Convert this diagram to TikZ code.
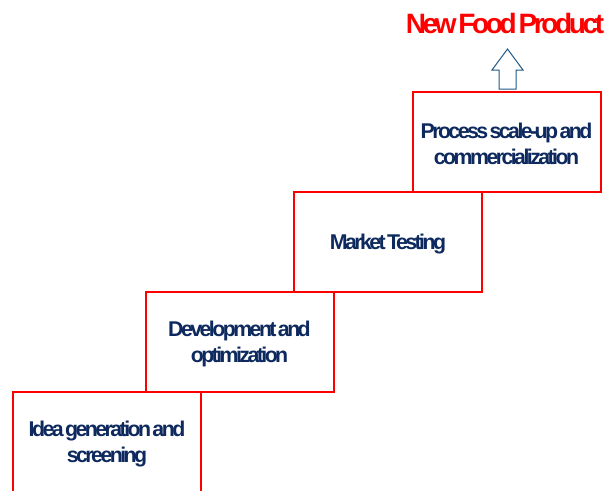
\documentclass[tikz,border=0pt]{standalone}
\usepackage{fontspec}
\setmainfont{Liberation Sans}
\newfontfamily\stepfont[LetterSpace=-12,WordSpace=0.4]{Liberation Sans}
\newfontfamily\titlefont[LetterSpace=-12,WordSpace=0.4]{Liberation Sans}
\usepackage{tikz}
\usetikzlibrary{positioning}
\definecolor{stepred}{RGB}{255,0,0}
\definecolor{stepnavy}{RGB}{13,41,94}
\definecolor{arrowblue}{RGB}{31,90,134}
\tikzset{
  stepbox/.style={draw=stepred, line width=1.5pt, fill=white, minimum width=141pt, minimum height=75pt, align=center, text=stepnavy, font=\stepfont\bfseries\fontsize{16}{19.5}\selectfont, inner sep=0pt},
  steptext/.style={text=stepnavy, font=\stepfont\bfseries\fontsize{16}{19.5}\selectfont, align=center, inner sep=0pt}
}

\begin{document}
\begin{tikzpicture}[x=0.75pt,y=0.75pt,yscale=-1,xscale=1]
\useasboundingbox (0,0) rectangle (606,490);

%Steps
\node (idea) [stepbox] at (107,442) {};
\node (devel) [stepbox] at (239.5,342) {};
\node (market) [stepbox] at (388,242) {};
\node (scaleup) [stepbox] at (506.5,142) {};

% Text Nodes
\node (ideatext) [steptext] at (107,444) {Idea generation and\\screening};
\node (develtext) [steptext] at (239.5,344) {Development and\\optimization};
\node (markettext) [steptext] at (388,244) {Market Testing};
\node (scaleuptext) [steptext] at (506.5,144) {Process scale-up and\\commercialization};

%Block Arrow
\draw [color=arrowblue, line width=0.75pt, fill=white] (499,89) -- (499,70) -- (492,70) -- (507.5,49) -- (523,70) -- (516,70) -- (516,89) -- cycle ;

% Text Node
\node (product) [text=stepred, font=\titlefont\bfseries\fontsize{21}{24}\selectfont, inner sep=0pt] at (505,23) {New Food Product};

\end{tikzpicture}
\end{document}
